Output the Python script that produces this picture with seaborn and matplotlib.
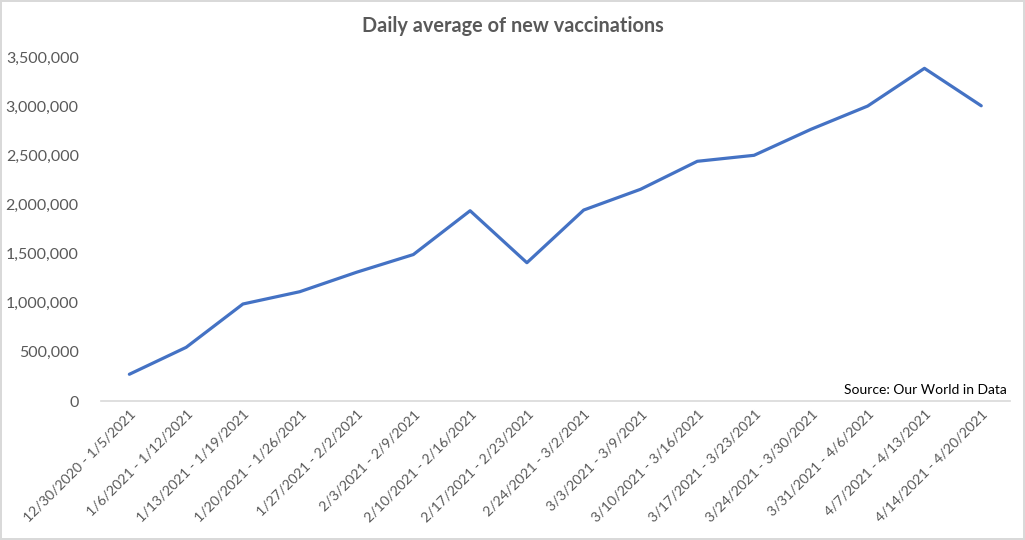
import pandas as pd
import seaborn as sns
import matplotlib.pyplot as plt
from matplotlib.ticker import FuncFormatter

# -----------------------------
# Data
# -----------------------------

weeks = [
    "12/30/2020 - 1/5/2021", "1/6/2021 - 1/12/2021", "1/13/2021 - 1/19/2021",
    "1/20/2021 - 1/26/2021", "1/27/2021 - 2/2/2021", "2/3/2021 - 2/9/2021",
    "2/10/2021 - 2/16/2021", "2/17/2021 - 2/23/2021", "2/24/2021 - 3/2/2021",
    "3/3/2021 - 3/9/2021", "3/10/2021 - 3/16/2021", "3/17/2021 - 3/23/2021",
    "3/24/2021 - 3/30/2021", "3/31/2021 - 4/6/2021", "4/7/2021 - 4/13/2021",
    "4/14/2021 - 4/20/2021",
]
daily_avg = [
    272000, 546000, 987000, 1112000, 1310000, 1490000, 1936000, 1407000,
    1943000, 2154000, 2439000, 2500000, 2764000, 3001000, 3385000, 3004000,
]
y_ticks = [0, 500000, 1000000, 1500000, 2000000, 2500000, 3000000, 3500000]

df = pd.DataFrame({"week": weeks, "avg": daily_avg})

# -----------------------------
# Setup
# -----------------------------

sns.set_style("white")
plt.rcParams["font.family"] = ["Lato", "DejaVu Sans"]

grey = "#595959"
fig = plt.figure(figsize=(10.25, 5.4), dpi=100, edgecolor="#d9d9d9", linewidth=1.5)
ax = fig.add_axes([0.0985, 0.2574, 0.8865, 0.637])

sns.lineplot(data=df, x="week", y="avg", sort=False, color="#4472C4",
             linewidth=2.3, ax=ax)

ax.set_xlim(-0.5, len(weeks) - 0.5)
ax.set_ylim(0, 3500000)
ax.set_yticks(y_ticks)
ax.yaxis.set_major_formatter(FuncFormatter(lambda v, p: f"{int(v):,}"))

for s in ["top", "right", "left"]:
    ax.spines[s].set_visible(False)
ax.spines["bottom"].set_color("#d9d9d9")
ax.spines["bottom"].set_linewidth(1.2)

ax.tick_params(axis="y", length=0, pad=16, labelsize=11.5, labelcolor=grey)
ax.tick_params(axis="x", length=0, pad=5, labelsize=10.2, labelcolor=grey)
plt.setp(ax.get_xticklabels(), rotation=45, ha="right", rotation_mode="anchor")
ax.set_xlabel("")
ax.set_ylabel("")

fig.suptitle("Daily average of new vaccinations", x=0.5, y=0.97,
             fontsize=14.3, fontweight="bold", color=grey)
ax.text(0.997, 0.015, "Source: Our World in Data", transform=ax.transAxes,
        ha="right", va="bottom", fontsize=10, color="black")

fig.savefig("out.png", dpi=100, edgecolor=fig.get_edgecolor())
